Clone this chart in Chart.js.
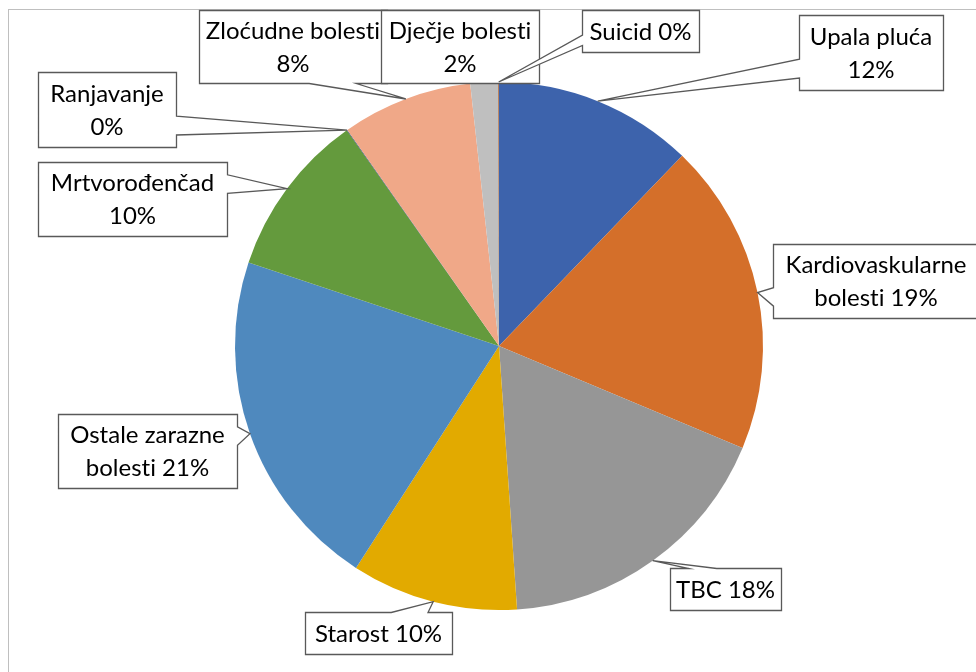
<!DOCTYPE html>
<html>
<head>
<meta charset="utf-8">
<title>Uzroci smrti</title>
<script src="https://cdn.jsdelivr.net/npm/chart.js@4.4.0/dist/chart.umd.min.js"></script>
<style>
  html, body { margin: 0; padding: 0; background: #fff; }
  canvas { display: block; }
</style>
</head>
<body>
<canvas id="pieChart" width="976" height="672"></canvas>
<script>
// Podaci (udjeli uzroka smrti, %)
const categories = ['Upala pluća', 'Kardiovaskularne bolesti', 'TBC', 'Starost',
  'Ostale zarazne bolesti', 'Mrtvorođenčad', 'Ranjavanje', 'Zloćudne bolesti',
  'Dječje bolesti', 'Suicid'];
const values = [12.2, 19.1, 17.6, 10.2, 21.0, 10.1, 0.04, 8.0, 1.7, 0.04];
const sliceColors = ['#3D63AC', '#D46F2A', '#969696', '#E2AA00', '#4F89BE',
  '#649A3D', '#264478', '#F0A888', '#BFBFBF', '#9E480E'];

// Položaj okvira za oznake (x, y, širina, visina) i način prelamanja teksta
const labelBoxes = [
  { x: 799, y: 15, w: 144, h: 75, wrap: 'two' },
  { x: 773, y: 244, w: 206, h: 74, wrap: 'last' },
  { x: 670, y: 568, w: 111, h: 42, wrap: 'one' },
  { x: 305, y: 612, w: 147, h: 42, wrap: 'one' },
  { x: 58, y: 414, w: 179, h: 74, wrap: 'last' },
  { x: 38, y: 162, w: 189, h: 74, wrap: 'two' },
  { x: 38, y: 72, w: 138, h: 75, wrap: 'two' },
  { x: 199, y: 10, w: 188, h: 73, wrap: 'two' },
  { x: 381, y: 10, w: 158, h: 73, wrap: 'two' },
  { x: 582, y: 10, w: 117, h: 42, wrap: 'one', side: 'left' }
];

const total = values.reduce((a, b) => a + b, 0);

function labelLines(i) {
  const pct = Math.round(values[i] / total * 100) + '%';
  const name = categories[i];
  const mode = labelBoxes[i].wrap;
  if (mode === 'one') return [name + ' ' + pct];
  if (mode === 'last') {
    const words = name.split(' ');
    const last = words.pop();
    return [words.join(' '), last + ' ' + pct];
  }
  return [name, pct];
}

// Oblik oblačića s klinom prema isječku
function calloutPath(ctx, b, tip) {
  const w = b.w, h = b.h, cx = b.x + w / 2, cy = b.y + h / 2;
  const dx = tip.x - cx, dy = tip.y - cy;
  const inside = tip.x >= b.x && tip.x <= b.x + w && tip.y >= b.y && tip.y <= b.y + h;
  let side = b.side || null;
  if (!side && !inside) {
    side = Math.abs(dx) * h > Math.abs(dy) * w ? (dx < 0 ? 'left' : 'right') : (dy < 0 ? 'top' : 'bottom');
  }
  const xa = dx < 0 ? [b.x + w * 2 / 12, b.x + w * 5 / 12] : [b.x + w * 7 / 12, b.x + w * 10 / 12];
  const ya = dy < 0 ? [b.y + h * 2 / 12, b.y + h * 5 / 12] : [b.y + h * 7 / 12, b.y + h * 10 / 12];
  ctx.beginPath();
  ctx.moveTo(b.x, b.y);
  if (side === 'top') { ctx.lineTo(xa[0], b.y); ctx.lineTo(tip.x, tip.y); ctx.lineTo(xa[1], b.y); }
  ctx.lineTo(b.x + w, b.y);
  if (side === 'right') { ctx.lineTo(b.x + w, ya[0]); ctx.lineTo(tip.x, tip.y); ctx.lineTo(b.x + w, ya[1]); }
  ctx.lineTo(b.x + w, b.y + h);
  if (side === 'bottom') { ctx.lineTo(xa[1], b.y + h); ctx.lineTo(tip.x, tip.y); ctx.lineTo(xa[0], b.y + h); }
  ctx.lineTo(b.x, b.y + h);
  if (side === 'left') { ctx.lineTo(b.x, ya[1]); ctx.lineTo(tip.x, tip.y); ctx.lineTo(b.x, ya[0]); }
  ctx.closePath();
}

const frameAndLabels = {
  id: 'frameAndLabels',
  beforeDraw(chart) {
    const ctx = chart.ctx;
    ctx.save();
    ctx.fillStyle = '#fff';
    ctx.fillRect(0, 0, chart.width, chart.height);
    ctx.strokeStyle = '#BFBFBF';
    ctx.lineWidth = 1;
    ctx.strokeRect(8.5, 9.5, chart.width + 20, chart.height + 20);
    ctx.restore();
  },
  afterDraw(chart) {
    const ctx = chart.ctx;
    const arcs = chart.getDatasetMeta(0).data;
    ctx.save();
    arcs.forEach((arc, i) => {
      const b = labelBoxes[i];
      const mid = (arc.startAngle + arc.endAngle) / 2;
      const tip = { x: arc.x + Math.cos(mid) * arc.outerRadius, y: arc.y + Math.sin(mid) * arc.outerRadius };
      const box = { x: b.x + 0.5, y: b.y + 0.5, w: b.w, h: b.h, side: b.side };
      calloutPath(ctx, box, tip);
      ctx.fillStyle = '#fff';
      ctx.fill();
      ctx.strokeStyle = '#595959';
      ctx.lineWidth = 1.3;
      ctx.stroke();

      const lines = labelLines(i);
      ctx.fillStyle = '#000';
      ctx.font = '24px Lato';
      ctx.textAlign = 'center';
      ctx.textBaseline = 'middle';
      const lh = 33;
      const cy = b.y + b.h / 2 - (lines.length - 1) * lh / 2;
      // ZWNJ sprječava ligaturu "ti" u fontu Lato
      lines.forEach((t, k) => ctx.fillText(t.replace(/t(?=i)/g, 't\u200C'), b.x + b.w / 2, cy + k * lh + 1));
    });
    ctx.restore();
  }
};

new Chart(document.getElementById('pieChart'), {
  type: 'pie',
  data: {
    labels: categories,
    datasets: [{
      data: values,
      backgroundColor: sliceColors,
      borderWidth: 0
    }]
  },
  options: {
    responsive: false,
    animation: false,
    layout: { padding: { top: 82, bottom: 62, left: 235, right: 213 } },
    plugins: {
      legend: { display: false },
      tooltip: { enabled: false }
    }
  },
  plugins: [frameAndLabels]
});
</script>
</body>
</html>
